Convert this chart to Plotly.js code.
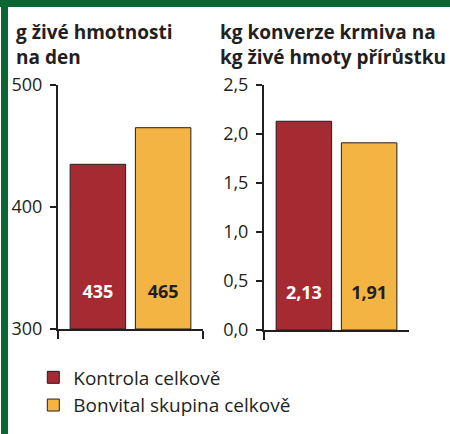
<!DOCTYPE html>
<html>
<head>
<meta charset="utf-8">
<script src="https://cdn.plot.ly/plotly-3.0.1.min.js"></script>
<style>
  html, body { margin: 0; padding: 0; background: #fff; }
  #chart { width: 450px; height: 434px; }
</style>
</head>
<body>
<div id="chart"></div>
<script>
// Data
const seriesNames = ['Kontrola celkově', 'Bonvital skupina celkově'];
const seriesColors = ['#a52a32', '#f3b443'];
const labelColors = ['#ffffff', '#231f20'];
const gain = [435, 465];        // g živé hmotnosti na den
const conversion = [2.13, 1.91]; // kg krmiva na kg přírůstku
const gainTicks = [300, 400, 500];
const convTicks = [0, 0.5, 1, 1.5, 2, 2.5];
const gainBase = 300;           // left axis starts at 300

const ink = '#231f20';
const font = '"Open Sans", sans-serif';

// Czech decimal comma
const fmt = (v, d) => v.toFixed(d).replace('.', ',');

const traces = [];
seriesNames.forEach((name, i) => {
  traces.push({
    type: 'bar', name: name, x: ['a'],
    base: [gainBase], y: [gain[i] - gainBase],
    xaxis: 'x', yaxis: 'y',
    marker: { color: seriesColors[i], line: { color: ink, width: 1 } },
    text: [String(gain[i])],
    texttemplate: '<b>%{text}</b><br>\u00a0',
    textposition: 'inside', insidetextanchor: 'start',
    textfont: { family: font, size: 18, color: labelColors[i] },
    hoverinfo: 'skip'
  });
  traces.push({
    type: 'bar', name: name, x: ['a'], y: [conversion[i]],
    xaxis: 'x2', yaxis: 'y2', showlegend: false,
    marker: { color: seriesColors[i], line: { color: ink, width: 1 } },
    text: [fmt(conversion[i], 2)],
    texttemplate: '<b>%{text}</b><br>\u00a0',
    textposition: 'inside', insidetextanchor: 'start',
    textfont: { family: font, size: 18, color: labelColors[i] },
    hoverinfo: 'skip'
  });
});

const xCommon = {
  showticklabels: false, showline: true, linecolor: ink, linewidth: 2,
  ticks: 'outside', tickson: 'boundaries', ticklen: 8, tickwidth: 2, tickcolor: ink,
  showgrid: false, zeroline: false, fixedrange: true
};
const yCommon = {
  showline: true, linecolor: ink, linewidth: 2,
  ticks: 'outside', ticklen: 6, tickwidth: 2, tickcolor: ink,
  showgrid: false, zeroline: false, fixedrange: true,
  tickfont: { family: font, size: 18, color: ink },
  ticklabelstandoff: 4
};

const layout = {
  width: 450, height: 434,
  margin: { l: 0, r: 0, t: 0, b: 0 },
  paper_bgcolor: '#ffffff', plot_bgcolor: '#ffffff',
  font: { family: font, color: ink },
  barmode: 'group', bargap: 0.1, bargroupgap: 0.15,
  xaxis: Object.assign({}, xCommon, { domain: [58 / 450, 203 / 450], anchor: 'y' }),
  yaxis: Object.assign({}, yCommon, {
    domain: [105 / 434, 349 / 434], anchor: 'x',
    range: [300, 500], tickvals: gainTicks, ticktext: gainTicks.map(String)
  }),
  xaxis2: Object.assign({}, xCommon, { domain: [264 / 450, 409 / 450], anchor: 'y2' }),
  yaxis2: Object.assign({}, yCommon, {
    domain: [104 / 434, 349 / 434], anchor: 'x2',
    range: [0, 2.5], tickvals: convTicks, ticktext: convTicks.map(v => fmt(v, 1))
  }),
  showlegend: true,
  legend: {
    x: 0.074, xanchor: 'left', y: 0.174, yanchor: 'top',
    font: { family: font, size: 19, color: ink },
    bgcolor: 'rgba(0,0,0,0)', tracegroupgap: 0, itemclick: false
  },
  annotations: [
    { text: '<b>g živé hmotnosti<br>na den</b>', xref: 'paper', yref: 'paper',
      x: 14 / 450, y: 1 - 17 / 434, xanchor: 'left', yanchor: 'top', align: 'left',
      showarrow: false, font: { family: font, size: 19, color: ink } },
    { text: '<b>kg konverze krmiva na<br>kg živé hmoty přírůstku</b>', xref: 'paper', yref: 'paper',
      x: 218 / 450, y: 1 - 17 / 434, xanchor: 'left', yanchor: 'top', align: 'left',
      showarrow: false, font: { family: font, size: 19, color: ink } }
  ],
  shapes: [
    // green frame: top bar and left edge
    { type: 'rect', xref: 'paper', yref: 'paper', x0: 0, x1: 1, y0: 1 - 7 / 434, y1: 1,
      fillcolor: '#0a6633', line: { width: 0 } },
    { type: 'rect', xref: 'paper', yref: 'paper', x0: 1 / 450, x1: 8 / 450, y0: 0, y1: 1,
      fillcolor: '#0a6633', line: { width: 0 } }
  ]
};

Plotly.newPlot('chart', traces, layout, { displayModeBar: false, staticPlot: true });
</script>
</body>
</html>
